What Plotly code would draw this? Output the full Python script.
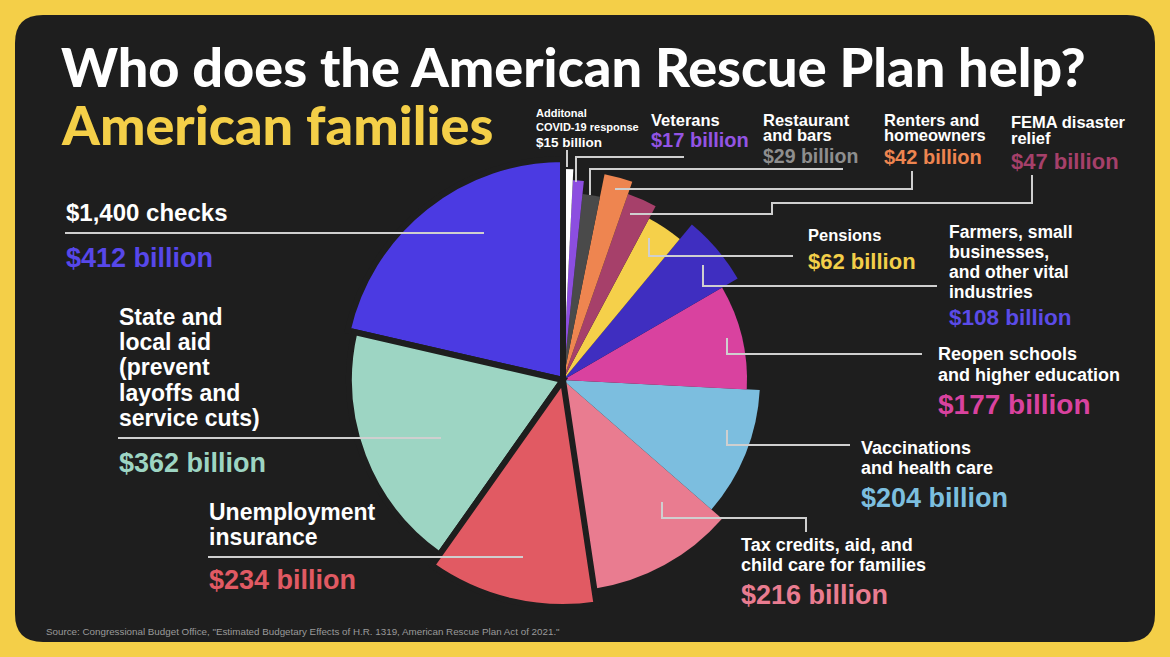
import numpy as np
import plotly.graph_objects as go

W, H = 1170, 657

# ---------------- data ----------------
categories = [
    "$1,400 checks",
    "State and local aid (prevent layoffs and service cuts)",
    "Unemployment insurance",
    "Tax credits, aid, and child care for families",
    "Vaccinations and health care",
    "Reopen schools and higher education",
    "Farmers, small businesses, and other vital industries",
    "Pensions",
    "FEMA disaster relief",
    "Renters and homeowners",
    "Restaurant and bars",
    "Veterans",
    "Additonal COVID-19 response",
]
values_bn = [412, 362, 234, 216, 204, 177, 108, 62, 47, 42, 29, 17, 15]
value_labels = ["$%d billion" % v for v in values_bn]

label_lines = [
    ["$1,400 checks"],
    ["State and", "local aid", "(prevent", "layoffs and", "service cuts)"],
    ["Unemployment", "insurance"],
    ["Tax credits, aid, and", "child care for families"],
    ["Vaccinations", "and health care"],
    ["Reopen schools", "and higher education"],
    ["Farmers, small", "businesses,", "and other vital", "industries"],
    ["Pensions"],
    ["FEMA disaster", "relief"],
    ["Renters and", "homeowners"],
    ["Restaurant", "and bars"],
    ["Veterans"],
    ["Additonal", "COVID-19 response"],
]

# ---------------- styles ----------------
slice_colors = ["#4B3AE2", "#9DD5C3", "#E15A63", "#E97C90", "#7CBEDF", "#D9429F",
                "#3F2EC0", "#F5D04A", "#A6406A", "#EE8550", "#4A4A4A", "#8C4EE0", "#FFFFFF"]
value_colors = ["#5747EA", "#9DD5C3", "#E15A63", "#E97C90", "#7CBEDF", "#D9429F",
                "#5B4BE8", "#F3CF49", "#A6406A", "#EE8550", "#8E8E8E", "#9354E4", "#FFFFFF"]
# outer radius of each wedge in px (the wedges are drawn with unequal lengths)
slice_radius = [221, 214, 227, 211, 197, 184, 202, 183, 197, 210, 187, 200, 211]
outlined = [True, True, True] + [False] * 10

BG = "#1E1E1E"
YELLOW = "#F4CF48"
LINE = "#CFCFCF"
TITLE_FONT = "Lato, Roboto, sans-serif"
FONT = "Liberation Sans, Arial, sans-serif"

CX, CY, RMAX = 563, 380, 240

# label layout: x, y of each label line, label size, y of value, value size
label_x = [65, 118, 208, 740, 860, 937, 948, 807, 1010, 883, 762, 650, 535]
label_y = [[212], [317, 342, 367, 393, 418], [512, 537], [545, 565], [448, 468],
           [354, 375], [232, 252, 272, 292], [235], [122, 138], [120, 135],
           [120, 135], [120], [113, 127]]
label_size = [24, 23, 23, 18, 18, 18, 17.5, 16.5, 16.5, 16.5, 16.5, 16.5, 11]
value_y = [258, 463, 580, 595, 498, 404, 317, 261, 161, 157, 156, 140, 142]
value_size = [27, 27, 27, 27, 27, 28, 22.5, 22, 22, 20, 19.5, 20, 13.5]

leaders = [
    [(65, 233), (484, 233)],
    [(118, 438), (441, 438)],
    [(208, 557), (523, 557)],
    [(662, 502), (662, 518), (806, 518), (806, 532)],
    [(727, 430), (727, 445), (850, 445)],
    [(727, 338), (727, 354), (922, 354)],
    [(703, 265), (703, 286), (937, 286)],
    [(649, 238), (649, 256), (793, 256)],
    [(630, 214), (772, 214), (772, 203), (1032, 203), (1032, 175)],
    [(615, 189), (912, 189), (912, 171)],
    [(590, 195), (590, 169), (843, 169)],
    [(576, 182), (576, 157), (684, 157)],
    [(567, 150), (567, 167)],
]

# ---------------- geometry from values ----------------
vals = np.array(values_bn, dtype=float)
widths = vals / vals.sum() * 360.0
starts = np.cumsum(widths) - widths
thetas = starts + widths / 2.0


def px(x, y):
    return x / W, 1 - y / H


fig = go.Figure()

idx_plain = [i for i in range(len(vals)) if not outlined[i]]
idx_out = [i for i in range(len(vals)) if outlined[i]]

for group, lw in ((idx_plain, 0), (idx_out, 6)):
    fig.add_trace(go.Barpolar(
        r=[slice_radius[i] for i in group],
        theta=[thetas[i] for i in group],
        width=[widths[i] for i in group],
        marker=dict(color=[slice_colors[i] for i in group],
                    line=dict(color=BG, width=lw)),
        hoverinfo="skip",
        showlegend=False,
    ))

dx = RMAX / W
dy = RMAX / H
cxp, cyp = px(CX, CY)

shapes = []
x0, y0, x1, y1, rr = 15, 15, 1155, 642, 28
def P(x, y):
    a, b = px(x, y)
    return "%.5f,%.5f" % (a, b)
path = ("M " + P(x0 + rr, y0) + " L " + P(x1 - rr, y0) + " Q " + P(x1, y0) + " " + P(x1, y0 + rr) +
        " L " + P(x1, y1 - rr) + " Q " + P(x1, y1) + " " + P(x1 - rr, y1) +
        " L " + P(x0 + rr, y1) + " Q " + P(x0, y1) + " " + P(x0, y1 - rr) +
        " L " + P(x0, y0 + rr) + " Q " + P(x0, y0) + " " + P(x0 + rr, y0) + " Z")
shapes.append(dict(type="path", path=path, xref="paper", yref="paper",
                   fillcolor=BG, line=dict(width=0), layer="below"))

for pts in leaders:
    p = "M " + " L ".join(P(x, y) for x, y in pts)
    shapes.append(dict(type="path", path=p, xref="paper", yref="paper",
                       line=dict(color=LINE, width=2), layer="above"))

ann = []
def text(x, y, s, size, color, family=FONT, weight="bold"):
    a, b = px(x, y)
    ann.append(dict(x=a, y=b, xref="paper", yref="paper", text=s, showarrow=False,
                    xanchor="left", yanchor="middle", borderpad=0,
                    font=dict(family=family, size=size, color=color, weight=weight)))

text(60, 66, "Who does the American Rescue Plan help?", 54, "#FFFFFF", TITLE_FONT, 900)
text(60, 124, "American families", 54, YELLOW, TITLE_FONT, 900)

for i in range(len(vals)):
    for line, yy in zip(label_lines[i], label_y[i]):
        text(label_x[i], yy, line, label_size[i], "#FFFFFF")
    text(label_x[i], value_y[i], value_labels[i], value_size[i], value_colors[i])

text(45, 631, 'Source: Congressional Budget Office, "Estimated Budgetary Effects of H.R. 1319, '
     'American Rescue Plan Act of 2021."', 9.8, "#9A9A9A", FONT, "normal")

fig.update_layout(
    width=W, height=H,
    margin=dict(l=0, r=0, t=0, b=0),
    paper_bgcolor=YELLOW,
    plot_bgcolor=BG,
    showlegend=False,
    shapes=shapes,
    annotations=ann,
    polar=dict(
        domain=dict(x=[cxp - dx, cxp + dx], y=[cyp - dy, cyp + dy]),
        bgcolor="rgba(0,0,0,0)",
        bargap=0,
        radialaxis=dict(range=[0, RMAX], visible=False, showgrid=False, showline=False),
        angularaxis=dict(rotation=90, direction="counterclockwise", visible=False,
                         showgrid=False, showline=False),
    ),
)

fig.write_html("out.html",
               config={"displayModeBar": False},
               post_script="document.body.style.margin='0';document.body.style.background='%s';" % YELLOW)
